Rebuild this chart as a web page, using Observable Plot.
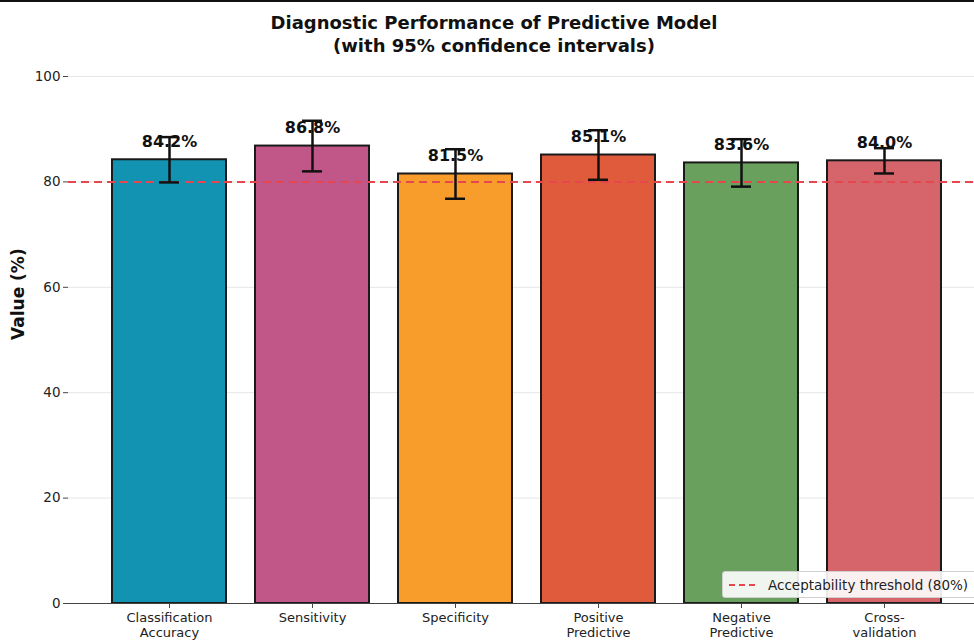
<!DOCTYPE html>
<html>
<head>
<meta charset="utf-8">
<script src="https://cdn.jsdelivr.net/npm/d3@7"></script>
<script src="https://cdn.jsdelivr.net/npm/@observablehq/plot@0.6"></script>
<style>
  html, body { margin: 0; padding: 0; background: #fff; overflow: hidden; }
  #wrap { position: relative; width: 974px; height: 642px; overflow: hidden; font-family: "DejaVu Sans", sans-serif; }
  #topline { position: absolute; left: 0; top: 0; width: 974px; height: 2px; background: #111; }
  #title { position: absolute; left: 194px; width: 600px; top: 11px; text-align: center; font-weight: bold; font-size: 18px; line-height: 23px; color: #111; }
  #legend { position: absolute; left: 722px; top: 571px; width: 270px; height: 25px; border: 1px solid #d0d0d0; border-radius: 3px; background: rgba(255,255,255,0.9); display: flex; align-items: center; font-size: 13.5px; color: #222; }
  #legend svg { margin-left: 6px; margin-right: 11px; }
</style>
</head>
<body>
<div id="wrap">
  <div id="topline"></div>
  <div id="title">Diagnostic Performance of Predictive Model<br>(with 95% confidence intervals)</div>
  <div id="chart"></div>
  <div id="legend"><svg width="28" height="10"><line x1="0" y1="5" x2="28" y2="5" stroke="#e8464e" stroke-width="2" stroke-dasharray="6,4"/></svg><span>Acceptability threshold (80%)</span></div>
</div>
<script>
const metrics = ["Classification\nAccuracy", "Sensitivity", "Specificity", "Positive\nPredictive", "Negative\nPredictive", "Cross-\nvalidation"];
const values = [84.2, 86.8, 81.5, 85.1, 83.6, 84.0];
const ciLow = [79.9, 82.0, 76.8, 80.4, 79.1, 81.6];
const ciHigh = [88.5, 91.6, 86.2, 89.8, 88.1, 86.4];
const colors = ["#1393b2", "#c15688", "#f89c2b", "#e05b3b", "#69a05d", "#d5646b"];
const threshold = 80;
const yTicks = [0, 20, 40, 60, 80, 100];

const data = metrics.map((m, i) => ({metric: m, value: values[i], lo: ciLow[i], hi: ciHigh[i], color: colors[i]}));

const chart = Plot.plot({
  width: 974,
  height: 642,
  marginTop: 76,
  marginBottom: 39,
  marginLeft: 68,
  marginRight: 0,
  style: {fontFamily: "DejaVu Sans, sans-serif", background: "transparent", color: "#222"},
  x: {domain: metrics, range: [68, 986], paddingInner: 0.2, paddingOuter: 0.29, label: null},
  y: {domain: [0, 100], label: null},
  marks: [
    Plot.gridY(yTicks, {stroke: "#e6e6e6", strokeOpacity: 1, strokeWidth: 1}),
    Plot.barY(data, {x: "metric", y: "value", fill: "color", stroke: "#1a1a1a", strokeWidth: 2}),
    Plot.ruleY([threshold], {stroke: "#e8464e", strokeWidth: 2, strokeDasharray: "8,5"}),
    Plot.text(data, {x: "metric", y: d => d.value + 2.5, text: d => d.value.toFixed(1) + "%", lineAnchor: "bottom", fontWeight: "bold", fontSize: 16, fill: "#111"}),
    Plot.ruleX(data, {x: "metric", y1: "lo", y2: "hi", stroke: "#111", strokeWidth: 2.5}),
    Plot.tickY(data, {x: "metric", y: "lo", stroke: "#111", strokeWidth: 2.5, insetLeft: 47, insetRight: 47}),
    Plot.tickY(data, {x: "metric", y: "hi", stroke: "#111", strokeWidth: 2.5, insetLeft: 47, insetRight: 47}),
    Plot.ruleX([68], {x: d => d, y1: 0, y2: 100, stroke: "#444", strokeWidth: 1.2}),
    Plot.ruleY([0], {stroke: "#444", strokeWidth: 1.2}),
    Plot.axisY({ticks: yTicks, tickSize: 5, tickPadding: 3, fontSize: 13.5, stroke: "#444", fill: "#222", label: null}),
    Plot.axisX({tickSize: 5, tickPadding: 2, fontSize: 13, lineHeight: 1.2, stroke: "#444", fill: "#222", label: null}),
    Plot.text(["Value (%)"], {frameAnchor: "left", dx: -50, rotate: -90, fontWeight: "bold", fontSize: 17, fill: "#111"})
  ]
});
document.getElementById("chart").appendChild(chart);
</script>
</body>
</html>
